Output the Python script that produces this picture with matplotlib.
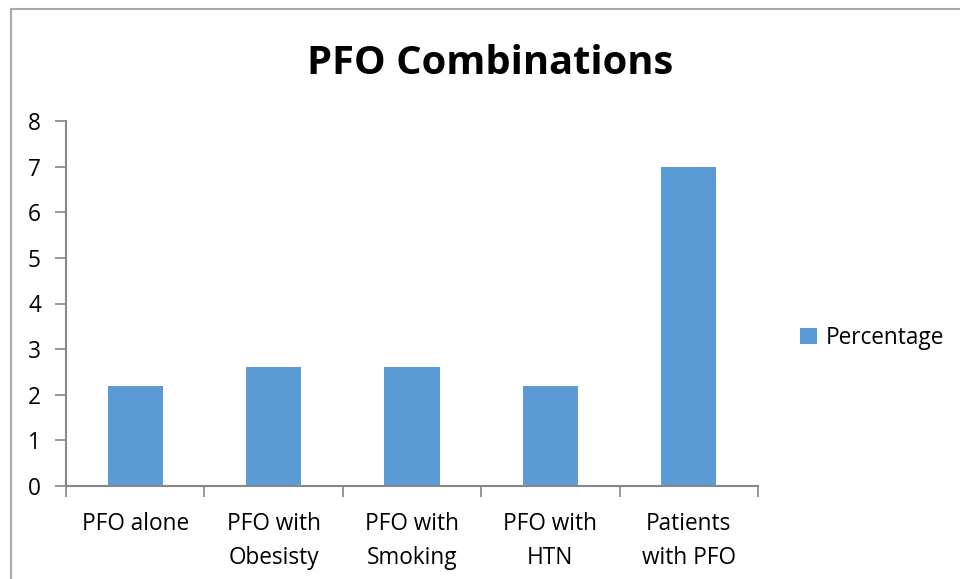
import matplotlib.pyplot as plt
from matplotlib.lines import Line2D

categories = ['PFO alone', 'PFO with\nObesisty', 'PFO with\nSmoking', 'PFO with\nHTN', 'Patients\nwith PFO']
percentage = [2.2, 2.6, 2.6, 2.2, 7.0]
yticks = [0, 1, 2, 3, 4, 5, 6, 7, 8]

plt.rcParams['font.family'] = ['Open Sans', 'DejaVu Sans']

bar_color = '#5B9BD5'
axis_color = '#868686'

fig = plt.figure(figsize=(9.6, 5.79), dpi=100)
ax = fig.add_axes([66 / 960, 1 - 486 / 579, 692 / 960, 365 / 579])

x = list(range(len(categories)))
ax.bar(x, percentage, width=0.4, color=bar_color, label='Percentage')

ax.set_xlim(-0.5, len(categories) - 0.5)
ax.set_ylim(0, 8)
ax.set_yticks(yticks)
ax.set_xticks(x)
ax.set_xticklabels(categories, fontsize=16.3, linespacing=1.55)
ax.tick_params(axis='y', labelsize=16.3, length=8, color=axis_color, width=1.2, pad=10)
ax.tick_params(axis='x', length=0, pad=19)
# category boundary ticks
ax.set_xticks([i - 0.5 for i in range(len(categories) + 1)], minor=True)
ax.tick_params(axis='x', which='minor', length=8, color=axis_color, width=1.2)

for s in ['top', 'right']:
    ax.spines[s].set_visible(False)
for s in ['left', 'bottom']:
    ax.spines[s].set_color(axis_color)
    ax.spines[s].set_linewidth(1.5)

fig.text(490 / 960, 1 - 63 / 579, 'PFO Combinations', fontsize=28.7, fontweight='bold',
         ha='center', va='center')

ax.legend(loc='center left', bbox_to_anchor=(780 / 960, 1 - 338 / 579),
          bbox_transform=fig.transFigure, frameon=False, fontsize=16.3,
          handlelength=0.75, handleheight=0.75, handletextpad=0.35)

# chart border (left and top only visible)
fig.add_artist(Line2D([11 / 960, 11 / 960], [0, 1 - 9 / 579], transform=fig.transFigure,
                      color='#AAAAAA', lw=1.5))
fig.add_artist(Line2D([11 / 960, 1], [1 - 9 / 579, 1 - 9 / 579], transform=fig.transFigure,
                      color='#AAAAAA', lw=1.5))

plt.savefig('out.png', dpi=100)
